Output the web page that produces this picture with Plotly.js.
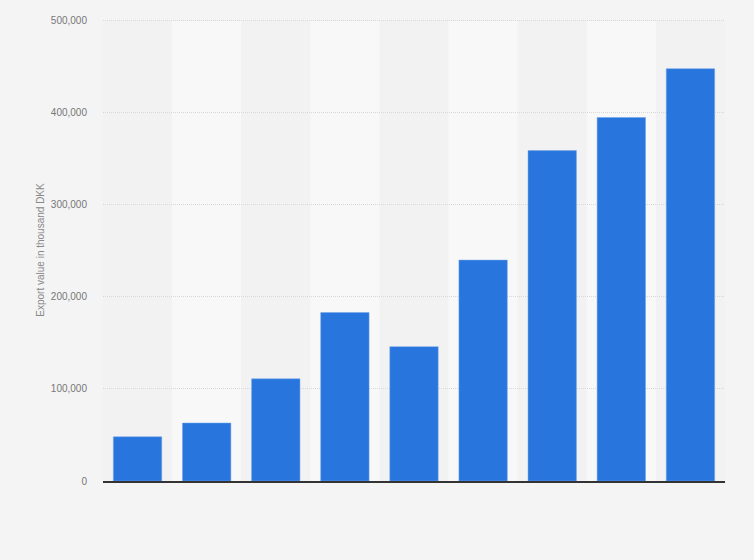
<!DOCTYPE html>
<html>
<head>
<meta charset="utf-8">
<script src="https://cdn.plot.ly/plotly-3.0.1.min.js"></script>
<style>
  html, body { margin: 0; padding: 0; background: #f4f4f4; }
  #plot { width: 754px; height: 560px; }
</style>
</head>
<body>
<div id="plot"></div>
<script>
// years are not shown on the chart, only used as category keys
const categories = ['2010', '2011', '2012', '2013', '2014', '2015', '2016', '2017', '2018']
const exportValues = [48000, 63000, 111000, 183000, 146000, 240000, 359000, 395000, 448000]
const yTickValues = [0, 100000, 200000, 300000, 400000, 500000]
const yTickLabels = ['0', '100,000', '200,000', '300,000', '400,000', '500,000']

var bands = []
for (var i = 0; i < categories.length; i++) {
    bands.push({
        type: 'rect',
        xref: 'x', yref: 'y',
        x0: i - 0.5, x1: i + 0.5,
        y0: 0, y1: 500000,
        fillcolor: (i % 2 == 1) ? '#f8f8f8' : '#f2f2f2',
        line: {width: 0},
        layer: 'below'
    })
}

const trace = {
    x: categories,
    y: exportValues,
    type: 'bar',
    marker: {color: '#2876dd', line: {color: '#6fa3ea', width: 0.5}},
    width: 0.7,
    hoverinfo: 'y'
}

const layout = {
    width: 754,
    height: 560,
    paper_bgcolor: '#f4f4f4',
    plot_bgcolor: 'rgba(0,0,0,0)',
    margin: {l: 103, r: 29, t: 19, b: 79},
    showlegend: false,
    font: {family: 'Liberation Sans, Arial, sans-serif', color: '#666'},
    xaxis: {
        type: 'category',
        showticklabels: false,
        showgrid: false,
        zeroline: false,
        showline: true,
        linecolor: '#333',
        linewidth: 1.5,
        ticks: '',
        range: [-0.5, categories.length - 0.5]
    },
    yaxis: {
        range: [0, 502000],
        tickvals: yTickValues,
        ticktext: yTickLabels,
        tickfont: {size: 10, color: '#777'},
        ticklabelstandoff: 15,
        showgrid: true,
        gridcolor: '#d8d8d8',
        griddash: '1px,1px',
        gridwidth: 1,
        zeroline: false,
        ticks: '',
        title: {text: 'Export value in thousand DKK', font: {size: 10, color: '#888'}, standoff: 4}
    },
    shapes: bands
}

Plotly.newPlot('plot', [trace], layout, {displayModeBar: false, staticPlot: true})
</script>
</body>
</html>
